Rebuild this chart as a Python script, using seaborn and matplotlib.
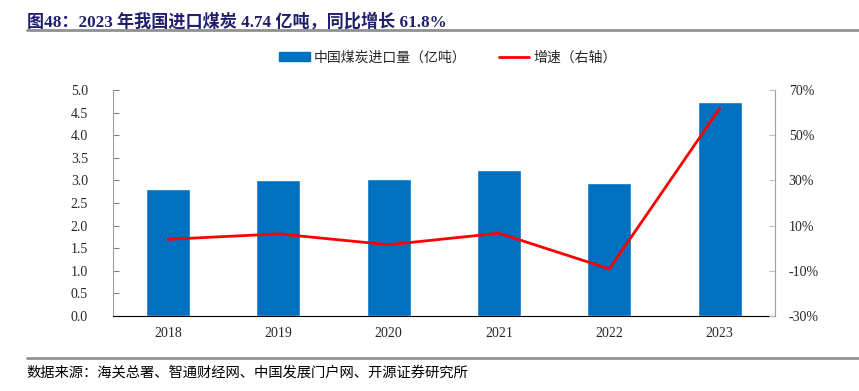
import numpy as np
import seaborn as sns
import matplotlib.pyplot as plt
from matplotlib.lines import Line2D
from matplotlib.patches import Patch

years = ["2018", "2019", "2020", "2021", "2022", "2023"]
imports = [2.81, 3.00, 3.04, 3.23, 2.93, 4.74]  # 亿吨
growth = [3.9, 6.3, 1.5, 6.6, -9.2, 61.8]  # %

sns.set_style("white")
plt.rcParams['font.family'] = ['Liberation Serif', 'Noto Sans CJK SC']
plt.rcParams['axes.unicode_minus'] = False

fig = plt.figure(figsize=(8.59, 3.91), dpi=100)
ax = fig.add_axes([0.1315, 0.192, 0.7705, 0.578])

sns.barplot(x=years, y=imports, color="#0070C0", width=0.4, saturation=1, ax=ax)
ax.set_ylim(0, 5)
ax.set_yticks(np.arange(0, 5.01, 0.5))
ax.set_yticklabels([f"{v:.1f}" for v in np.arange(0, 5.01, 0.5)])
ax.set_xlim(-0.5, 5.5)
ax.set_xlabel("")
ax.set_ylabel("")

ax2 = ax.twinx()
sns.lineplot(x=np.arange(len(years)), y=growth, color="red", linewidth=2, ax=ax2)
ax2.set_ylim(-30, 70)
ax2.set_yticks(range(-30, 71, 20))
ax2.set_yticklabels([f"{v}%" for v in range(-30, 71, 20)])
ax2.set_xlim(-0.5, 5.5)

for a in (ax, ax2):
    for s in a.spines.values():
        s.set_visible(False)
ax.spines["left"].set_visible(True)
ax.spines["left"].set_color("#a0a0a0")
ax.spines["bottom"].set_visible(True)
ax.spines["bottom"].set_color("black")
ax2.spines["right"].set_visible(True)
ax2.spines["right"].set_color("#a0a0a0")

ax.tick_params(axis="y", direction="in", length=4, color="#808080", labelsize=10, pad=18)
ax2.tick_params(axis="y", direction="in", length=4, color="#c0c0c0", labelsize=10, pad=10)
ax.tick_params(axis="x", length=0, labelsize=10, pad=8)
ax.set_xticks([0.5, 1.5, 2.5, 3.5, 4.5], minor=True)
ax.tick_params(axis="x", which="minor", direction="in", length=4, color="#808080")

handles = [Patch(color="#0070C0"), Line2D([], [], color="red", linewidth=2)]
fig.legend(handles, ["中国煤炭进口量（亿吨）", "增速（右轴）"], loc="center",
           bbox_to_anchor=(0.5215, 0.852), ncol=2, frameon=False, fontsize=10,
           handlelength=2.2, handleheight=0.6, columnspacing=2.3, handletextpad=0.3)

fig.text(0.031, 0.945, "图48：2023 年我国进口煤炭 4.74 亿吨，同比增长 61.8%",
         fontsize=12.3, fontweight="bold", color="#1f1f6e", va="center")
fig.add_artist(Line2D([0.031, 1.0], [0.923, 0.923], color="#909090", linewidth=2))
fig.add_artist(Line2D([0.031, 1.0], [0.085, 0.085], color="#909090", linewidth=2))
fig.text(0.031, 0.048, "数据来源：海关总署、智通财经网、中国发展门户网、开源证券研究所",
         fontsize=10.3, color="black", va="center")

fig.savefig("out.png", dpi=100)
